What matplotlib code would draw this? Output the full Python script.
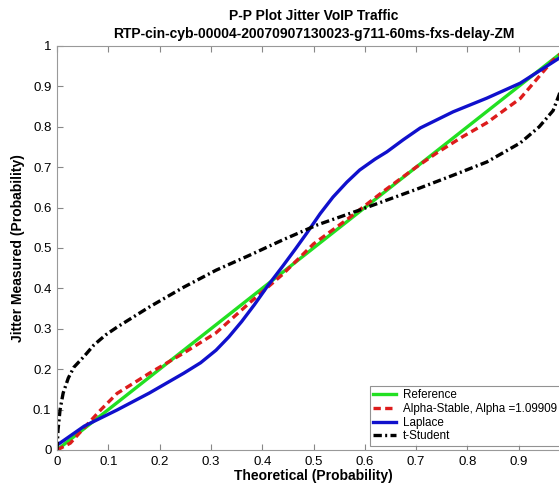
import matplotlib
matplotlib.use("Agg")
import matplotlib.pyplot as plt

plt.rcParams['font.family'] = ['Liberation Sans', 'DejaVu Sans']

# reference line
ref_x = [0, 1]
ref_y = [0, 1]

# Alpha-Stable
stable_x = [0, 0.026, 0.053, 0.085, 0.117, 0.15, 0.18, 0.247, 0.31, 0.377,
            0.44, 0.5, 0.57, 0.636, 0.7, 0.74, 0.79, 0.838, 0.903, 0.967, 1.0]
stable_y = [0, 0.017, 0.055, 0.099, 0.14, 0.166, 0.19, 0.24, 0.29, 0.366,
            0.435, 0.51, 0.575, 0.64, 0.70, 0.735, 0.775, 0.81, 0.87, 0.965, 1.0]

# Laplace
laplace_x = [0, 0.053, 0.117, 0.18, 0.247, 0.28, 0.31, 0.335, 0.36, 0.385, 0.41,
             0.44, 0.465, 0.487, 0.513, 0.538, 0.565, 0.59, 0.62, 0.643, 0.675,
             0.708, 0.772, 0.838, 0.903, 0.979, 1.0]
laplace_y = [0.012, 0.059, 0.099, 0.141, 0.19, 0.216, 0.247, 0.28, 0.318, 0.36, 0.405,
             0.455, 0.498, 0.537, 0.585, 0.626, 0.663, 0.693, 0.72, 0.738, 0.768,
             0.797, 0.837, 0.871, 0.908, 0.97, 0.985]

# t-Student
tstud_x = [0, 0.002, 0.006, 0.012, 0.022, 0.033, 0.053, 0.072, 0.095, 0.117, 0.18,
           0.247, 0.31, 0.377, 0.44, 0.507, 0.59, 0.70, 0.772, 0.838, 0.903,
           0.94, 0.967, 0.979, 0.99, 1.0]
tstud_y = [0, 0.05, 0.1, 0.141, 0.178, 0.205, 0.232, 0.26, 0.285, 0.304, 0.354,
           0.403, 0.445, 0.483, 0.52, 0.557, 0.594, 0.645, 0.68, 0.713, 0.76,
           0.80, 0.84, 0.88, 0.93, 1.0]

ticks = [0, 0.1, 0.2, 0.3, 0.4, 0.5, 0.6, 0.7, 0.8, 0.9, 1]
xtick_labels = ['0', '0.1', '0.2', '0.3', '0.4', '0.5', '0.6', '0.7', '0.8', '0.9', '']
ytick_labels = ['0', '0.1', '0.2', '0.3', '0.4', '0.5', '0.6', '0.7', '0.8', '0.9', '1']

fig = plt.figure(figsize=(5.59, 4.83), dpi=100)
W, H = 559, 483
ax = fig.add_axes([57 / W, (H - 450) / H, (570 - 57) / W, (450 - 46) / H])

ax.plot(ref_x, ref_y, color='#22e022', lw=2.4, label='Reference')
ax.plot(stable_x, stable_y, color='#dd1c1c', lw=2.4, ls=(0, (2.2, 1.3)),
        label='Alpha-Stable, Alpha =1.09909')
ax.plot(laplace_x, laplace_y, color='#1010cc', lw=2.4, label='Laplace')
ax.plot(tstud_x, tstud_y, color='black', lw=2.4, ls=(0, (2.5, 1, 0.6, 1)),
        label='t-Student')

ax.set_xlim(0, 1)
ax.set_ylim(0, 1)
ax.set_xticks(ticks)
ax.set_xticklabels(xtick_labels)
ax.set_yticks(ticks)
ax.set_yticklabels(ytick_labels)
ax.tick_params(direction='in', top=True, right=True, labelsize=9.5,
               length=4, color='#888888', pad=4)
for s in ax.spines.values():
    s.set_color('#999999')

ax.set_title('P-P Plot Jitter VoIP Traffic\nRTP-cin-cyb-00004-20070907130023-g711-60ms-fxs-delay-ZM',
             fontsize=10, fontweight='bold', pad=6, linespacing=1.3)
ax.set_xlabel('Theoretical (Probability)', fontsize=10, fontweight='bold', labelpad=1)
ax.set_ylabel('Jitter Measured (Probability)', fontsize=10, fontweight='bold', labelpad=6)

leg = ax.legend(loc='lower right', bbox_to_anchor=((560 - 57) / 513, 0.01),
                borderaxespad=0, fontsize=8.4,
                frameon=True, fancybox=False, edgecolor='#777777',
                handlelength=1.9, borderpad=0.3, labelspacing=0.15,
                handletextpad=0.6)
leg.get_frame().set_linewidth(0.8)

fig.savefig('out.png', dpi=100)
